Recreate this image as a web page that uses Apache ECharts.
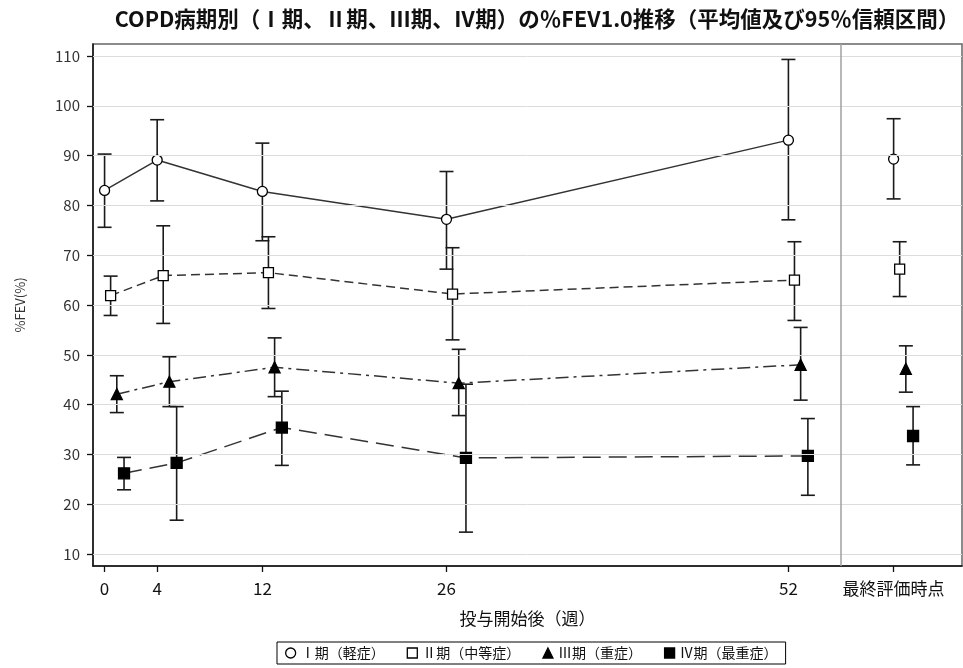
<!DOCTYPE html>
<html>
<head>
<meta charset="utf-8">
<script src="https://cdn.jsdelivr.net/npm/echarts@6/dist/echarts.min.js"></script>
<style>html,body{margin:0;padding:0;background:#fff}#c{width:963px;height:668px}</style>
</head>
<body>
<div id="c"></div>
<script>
// ---- data ----
const weeks = [0, 4, 12, 26, 52];          // connected time points (weeks)
const finalWeek = 60;                       // position of "最終評価時点"
const xTickValues = [0, 4, 12, 26, 52, 60];
const xTickLabels = ['0', '4', '12', '26', '52', '最終評価時点'];
const yTickValues = [10, 20, 30, 40, 50, 60, 70, 80, 90, 100, 110];
const groupNames = ['Ⅰ期（軽症）', 'Ⅱ期（中等症）', 'Ⅲ期（重症）', 'Ⅳ期（最重症）'];
const groupOffsets = [0, 0.46, 0.93, 1.48];  // horizontal dodge in weeks

// mean values: weeks 0,4,12,26,52, final
const meanI   = [83.0, 89.1, 82.8, 77.2, 93.1, 89.3];
const meanII  = [61.9, 65.9, 66.5, 62.2, 65.0, 67.2];
const meanIII = [42.1, 44.6, 47.5, 44.3, 48.0, 47.2];
const meanIV  = [26.2, 28.3, 35.4, 29.3, 29.7, 33.7];
// 95% CI lower
const lowI   = [75.6, 80.9, 72.9, 67.2, 77.1, 81.3];
const lowII  = [57.9, 56.3, 59.3, 53.0, 56.9, 61.7];
const lowIII = [38.4, 39.6, 41.6, 37.8, 40.9, 42.5];
const lowIV  = [22.9, 16.8, 27.8, 14.4, 21.8, 27.9];
// 95% CI upper
const highI   = [90.3, 97.2, 92.5, 86.8, 109.3, 97.4];
const highII  = [65.8, 75.9, 73.7, 71.5, 72.7, 72.7];
const highIII = [45.8, 49.6, 53.4, 51.1, 55.5, 51.8];
const highIV  = [29.4, 39.6, 42.7, 44.1, 37.2, 39.6];

const means = [meanI, meanII, meanIII, meanIV];
const lows = [lowI, lowII, lowIII, lowIV];
const highs = [highI, highII, highIII, highIV];

// ---- styles ----
const symbols = ['circle', 'rect', 'triangle', 'rect'];
const symbolSizes = [10, 10, 11, 11];
const fills = ['#fff', '#fff', '#000', '#000'];
const dashes = ['solid', [9, 5], [13, 5, 3, 5], [18, 8]];
const FONT = '"Noto Sans CJK JP", "Noto Sans", sans-serif';

const allX = [...weeks, finalWeek];
const series = [];

// gridlines + separator
series.push({
  type: 'line', data: [], silent: true,
  markLine: {
    silent: true, symbol: 'none', animation: false,
    label: {show: false},
    lineStyle: {color: '#dcdcdc', width: 1, type: 'solid'},
    data: yTickValues.map(v => ({yAxis: v}))
      .concat([{xAxis: 56, lineStyle: {color: '#a0a0a0', width: 1.5, type: 'solid'}}])
  }
});

for (let g = 0; g < 4; g++) {
  const xs = allX.map(x => x + groupOffsets[g]);
  // error bars
  series.push({
    type: 'custom', name: 'ci' + g, z: 3, silent: true,
    renderItem: function (params, api) {
      const x = api.value(0), lo = api.value(1), hi = api.value(2);
      const p1 = api.coord([x, hi]), p2 = api.coord([x, lo]);
      const w = 7;
      const st = {stroke: '#1a1a1a', lineWidth: 1.6};
      return {type: 'group', children: [
        {type: 'line', shape: {x1: p1[0], y1: p1[1], x2: p2[0], y2: p2[1]}, style: st},
        {type: 'line', shape: {x1: p1[0] - w, y1: p1[1], x2: p1[0] + w, y2: p1[1]}, style: st},
        {type: 'line', shape: {x1: p2[0] - w, y1: p2[1], x2: p2[0] + w, y2: p2[1]}, style: st}
      ]};
    },
    encode: {x: 0, y: [1, 2]},
    data: xs.map((x, i) => [x, lows[g][i], highs[g][i]])
  });
  // connected means
  series.push({
    type: 'line', name: groupNames[g], z: 4,
    symbol: symbols[g], symbolSize: symbolSizes[g], showAllSymbol: true,
    itemStyle: {color: fills[g], borderColor: '#000', borderWidth: 1.3, opacity: 1},
    lineStyle: {color: '#333', width: 1.5, type: dashes[g]},
    data: weeks.map((w, i) => [xs[i], means[g][i]]),
    animation: false
  });
  // final evaluation point
  series.push({
    type: 'scatter', name: groupNames[g], z: 4,
    symbol: symbols[g], symbolSize: symbolSizes[g],
    itemStyle: {color: fills[g], borderColor: '#000', borderWidth: 1.3, opacity: 1},
    data: [[xs[5], means[g][5]]],
    animation: false
  });
}

const chart = echarts.init(document.getElementById('c'), null, {renderer: 'canvas'});
chart.setOption({
  animation: false,
  backgroundColor: '#fff',
  textStyle: {fontFamily: FONT},
  title: {
    text: 'COPD病期別（Ⅰ期、Ⅱ期、Ⅲ期、Ⅳ期）の％FEV1.0推移（平均値及び95％信頼区間）',
    left: 532, top: 3, textAlign: 'center',
    textStyle: {fontFamily: FONT, fontSize: 21.5, fontWeight: 'bold', color: '#111'}
  },
  legend: {
    bottom: 4, left: 277,
    data: groupNames.map((n, g) => ({name: n, icon: symbols[g],
      itemStyle: {color: fills[g], borderColor: '#000', borderWidth: 1.3}})),
    itemWidth: 10, itemHeight: 10, itemGap: 22,
    borderColor: '#000', borderWidth: 1, padding: [4, 8],
    selectedMode: false,
    textStyle: {fontFamily: FONT, fontSize: 14, color: '#111'}
  },
  grid: {
    left: 93, right: 1, top: 44, bottom: 102,
    show: true, borderColor: '#666', borderWidth: 1.5, backgroundColor: 'transparent'
  },
  xAxis: {
    type: 'value', min: -0.88, max: 65.2,
    name: '投与開始後（週）', nameLocation: 'middle', nameGap: 44,
    nameTextStyle: {fontFamily: FONT, fontSize: 17, color: '#111'},
    axisLine: {show: true, onZero: false, lineStyle: {color: '#111', width: 1.5}},
    axisTick: {show: true, customValues: xTickValues, length: 6, lineStyle: {color: '#111', width: 1.3}},
    axisLabel: {show: true, customValues: xTickValues, margin: 14,
      fontFamily: FONT, fontSize: 17, color: '#111',
      formatter: v => xTickLabels[xTickValues.indexOf(v)] ?? ''},
    splitLine: {show: false}
  },
  yAxis: {
    type: 'value', min: 7.6, max: 112.4,
    name: '%FEV(%)', nameLocation: 'middle', nameGap: 66, nameRotate: 90,
    nameTextStyle: {fontFamily: FONT, fontSize: 13, color: '#333'},
    axisLine: {show: true, onZero: false, lineStyle: {color: '#111', width: 1.5}},
    axisTick: {show: true, customValues: yTickValues, length: 6, lineStyle: {color: '#111', width: 1.3}},
    axisLabel: {show: true, customValues: yTickValues, margin: 13,
      fontFamily: FONT, fontSize: 15, color: '#333'},
    splitLine: {show: false}
  },
  series: series
});
</script>
</body>
</html>
